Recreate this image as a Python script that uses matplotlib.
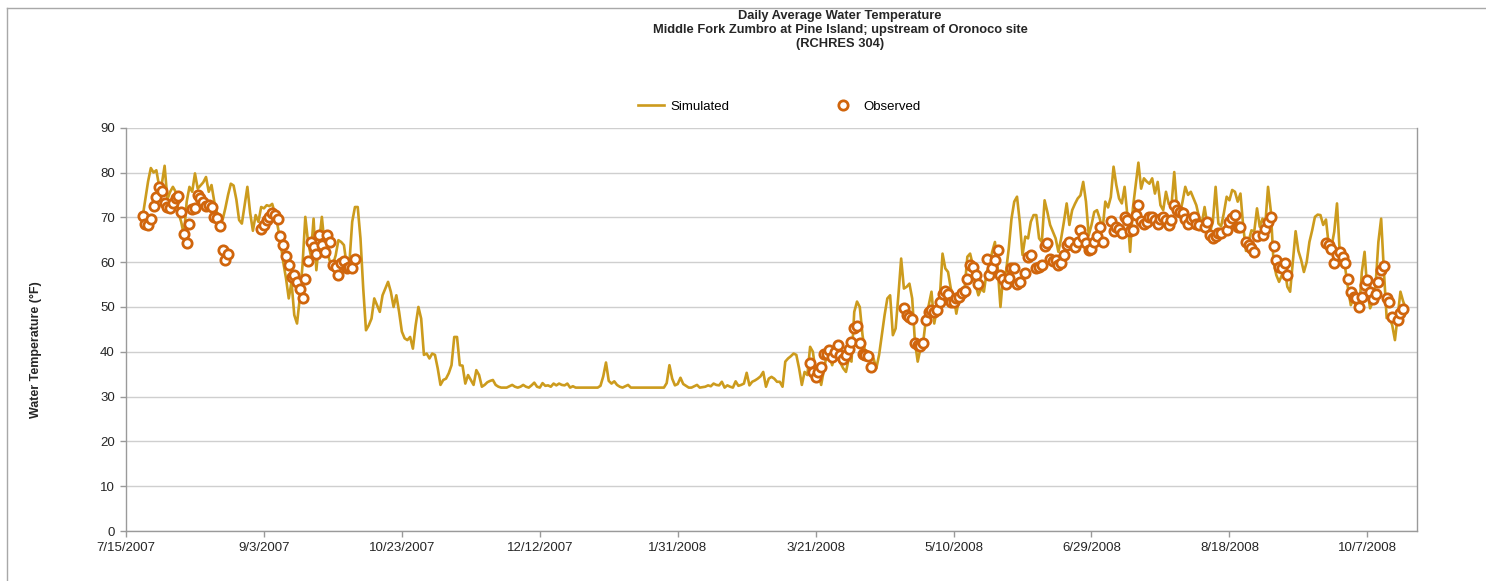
import numpy as np
import pandas as pd
import matplotlib
matplotlib.use("Agg")
import matplotlib.pyplot as plt
import matplotlib.dates as mdates
from matplotlib.ticker import FuncFormatter
from matplotlib.lines import Line2D

plt.rcParams['font.family'] = ['Liberation Sans', 'DejaVu Sans']

# data
axis_start = '2007-07-15'
sim_start = '2007-07-21'

sim_temp = [
    70.0, 74.0, 78.0, 81.0, 80.0, 80.5, 77.0, 77.5, 81.5, 74.0,
    75.7, 76.8, 75.7, 71.0, 69.0, 66.0, 73.5, 76.8, 75.7, 79.8,
    76.4, 77.1, 77.8, 79.0, 75.7, 77.2, 73.5, 71.0, 70.5, 69.4,
    72.0, 75.0, 77.5, 77.1, 74.0, 69.4, 68.6, 72.7, 76.8, 71.0,
    67.0, 70.5, 69.0, 72.3, 72.0, 72.7, 72.5, 73.0, 70.8, 68.0,
    64.5, 60.0, 56.4, 51.9, 55.6, 48.2, 46.3, 52.0, 59.4, 70.1,
    64.5, 61.5, 69.7, 58.2, 64.5, 70.1, 63.8, 62.0, 60.0, 59.4,
    61.5, 64.9, 64.5, 63.8, 59.3, 60.0, 69.0, 72.3, 72.3, 65.3,
    54.1, 44.8, 45.9, 47.4, 51.9, 50.4, 48.9, 52.6, 54.1, 55.6,
    53.4, 50.0, 52.6, 48.9, 44.5, 43.0, 42.6, 43.3, 40.7, 45.9,
    50.0, 47.4, 39.3, 39.6, 38.5, 39.6, 39.3, 36.3, 32.6, 33.7,
    34.0, 35.2, 37.0, 43.3, 43.3, 37.0, 36.9, 32.9, 34.8, 33.7,
    32.6, 35.9, 34.8, 32.2, 32.6, 33.2, 33.5, 33.7, 32.6, 32.2,
    32.0, 32.0, 32.0, 32.3, 32.6, 32.2, 32.0, 32.2, 32.6, 32.2,
    32.0, 32.5, 33.1, 32.2, 32.0, 33.0, 32.4, 32.5,
    32.2, 32.9, 32.5, 32.9, 32.6, 32.5, 32.9, 32.0, 32.3, 32.0,
    32.0, 32.0, 32.0, 32.0, 32.0, 32.0, 32.0, 32.0, 32.4, 34.5,
    37.6, 33.5, 32.9, 33.4, 32.6, 32.2, 32.0, 32.3, 32.6, 32.0,
    32.0, 32.0, 32.0, 32.0, 32.0, 32.0, 32.0, 32.0, 32.0, 32.0, 32.0, 32.0,
    33.0, 37.0, 34.0, 32.5, 32.8, 34.2, 32.8, 32.4, 32.0, 32.0,
    32.3, 32.6, 32.0, 32.1, 32.2, 32.5, 32.3, 32.9, 32.6, 32.5,
    33.3, 32.0, 32.5, 32.2, 32.0, 33.4, 32.4, 32.6, 32.9, 35.3,
    32.5, 33.3, 33.6,
    34.0, 34.5, 35.5, 32.2, 34.0, 34.4, 34.0, 33.3, 33.3, 32.2,
    37.8, 38.5, 39.0, 39.6, 39.3, 36.3, 32.6, 35.5, 34.8, 41.1,
    40.0, 35.5, 35.5, 32.6, 36.0, 39.3, 38.9, 37.0, 39.3, 39.6,
    37.5, 36.3, 35.5, 38.5, 37.8, 48.9, 51.2, 50.0, 43.7, 39.6,
    39.6, 39.0, 38.5, 36.3, 39.3, 43.7, 48.2, 51.9, 52.6, 43.7,
    45.2, 52.6, 60.8, 54.1, 54.5, 55.2, 51.9, 42.2, 37.8, 40.7,
    42.2, 47.4, 50.4, 53.4, 46.3, 49.7, 51.9, 61.9, 58.6, 57.8,
    54.1, 52.6, 48.5, 51.9, 52.6, 54.1, 61.2, 61.9,
    59.3, 54.9, 52.6, 54.1, 53.4, 57.8, 59.3, 62.3, 64.5, 58.6,
    50.0, 57.1, 57.8, 63.0, 69.7, 73.5, 74.6, 69.0, 61.6, 65.7,
    65.3, 69.0, 70.5, 70.5, 65.3, 64.5, 73.8, 71.2, 68.3, 66.8,
    65.3, 62.3, 65.3, 69.0, 73.1, 68.3, 71.6, 73.0, 74.2, 74.9,
    77.9, 73.5, 66.0, 68.3, 71.2, 71.6, 69.7, 67.1, 73.5, 72.2,
    74.5, 81.3, 77.2, 74.2, 73.1, 76.8, 70.5, 62.3, 72.0, 77.2,
    82.2, 76.4, 78.7, 78.0, 77.5, 78.7, 75.3, 77.9, 72.7, 71.6,
    75.7, 73.0, 72.7, 80.1,
    72.0, 70.5, 73.5, 76.8, 75.0, 75.7, 74.2, 72.7, 70.0, 68.6,
    72.3, 68.3, 66.8, 69.0, 76.8, 68.6, 68.0, 71.0, 74.6, 73.8,
    76.1, 75.7, 73.5, 75.3, 68.0, 62.5, 64.8, 67.1, 66.8, 72.0,
    67.9, 69.7, 68.3, 76.8, 71.5, 60.0, 57.1, 55.6, 57.1, 58.6,
    54.5, 53.4, 60.1, 66.9, 62.5, 60.5, 57.8, 60.0, 64.5, 67.1,
    70.1, 70.6, 70.5, 68.3, 69.5, 63.8, 63.4, 66.8, 73.1, 62.0,
    60.1, 58.6, 54.1, 50.4, 51.9, 49.7, 49.0, 57.8, 62.3, 53.5,
    49.7, 51.2, 54.9, 64.5, 69.7, 58.0, 47.5, 47.5, 46.0, 42.6,
    48.0, 53.4, 51.2, 49.7,
]

# observed: days after 7/15/2007 and temperature
obs_day = (
    list(range(6, 38))
    + list(range(49, 84))
    + list(range(248, 271))
    + list(range(282, 310)) + list(range(312, 325)) + [326, 327, 328]
    + list(range(330, 343)) + list(range(344, 355)) + list(range(357, 390))
    + list(range(391, 398)) + list(range(399, 405)) + list(range(406, 411))
    + list(range(412, 422))
    + list(range(435, 460)) + [461, 462, 463]
)
obs_temp = [
    70.3, 68.6, 68.3, 69.7, 72.6, 74.6, 76.7, 75.8, 73.3, 72.3, 72.1, 73.1,
    74.4, 74.8, 71.1, 66.2, 64.3, 68.4, 71.8, 72.1, 74.9, 74.4, 73.5, 72.6,
    72.7, 72.3, 70.1, 69.9, 68.0, 62.8, 60.4, 61.9,
    67.4, 68.3, 69.4, 70.1, 70.9, 70.5, 69.7, 65.8, 63.8, 61.4, 59.3, 56.7,
    57.1, 55.6, 54.1, 52.0, 56.2, 60.2, 64.5, 63.4, 61.9, 66.0, 63.9, 62.3,
    66.0, 64.5, 59.3, 59.0, 57.1, 59.9, 60.2, 58.7, 59.0, 58.7, 60.7,
    37.4, 35.5, 34.4, 35.4, 36.7, 39.4, 39.6, 40.4, 38.9, 40.0, 41.5, 39.3,
    38.4, 39.3, 40.6, 42.2, 45.2, 45.8, 41.9, 39.4, 39.3, 39.1, 36.5,
    49.8, 48.2, 47.7, 47.3, 41.9, 41.5, 41.3, 41.9, 47.1, 48.9, 49.3, 48.8,
    49.3, 51.2, 53.0, 53.5, 53.0, 51.0, 51.2, 51.9, 52.3, 53.2, 53.5, 56.2,
    59.3, 59.0, 57.2, 55.2,
    60.7, 57.2, 58.7, 60.4, 62.7, 57.1, 56.2, 55.2, 56.5, 58.7, 58.6, 55.2, 55.5,
    57.5, 61.2, 61.7,
    58.6, 59.0, 59.3, 63.6, 64.2, 60.7, 60.2, 60.4, 59.3, 59.7, 61.6, 63.8, 64.4,
    63.4, 64.5, 67.1, 65.7, 64.2, 62.7, 62.9, 64.5, 65.9, 67.9, 64.5,
    69.1, 66.9, 67.9, 67.5, 66.4, 70.1, 69.4, 66.9, 67.1, 70.5, 72.7, 69.1,
    68.6, 69.0, 70.1, 70.1, 69.4, 68.6, 69.7, 70.1, 69.4, 68.3, 69.4, 72.7,
    71.6, 71.2, 70.9, 69.7, 68.6, 69.7, 70.1, 68.6, 68.3,
    67.9, 69.0, 66.0, 65.4, 65.9, 66.4, 66.6,
    67.1, 69.0, 69.9, 70.5, 67.9, 67.9,
    64.5, 63.8, 63.2, 62.3, 65.9,
    66.0, 67.5, 69.0, 70.1, 63.6, 60.4, 59.0, 58.6, 59.7, 57.2,
    64.2, 63.8, 63.0, 59.7, 61.6, 62.3, 61.2, 59.7, 56.2, 53.4, 52.3, 51.9,
    50.0, 52.3, 54.9, 56.0, 53.4, 51.7, 53.0, 55.5, 58.2, 59.2, 52.0, 51.2,
    47.8, 47.1, 48.6, 49.5,
]

y_ticks = list(range(0, 91, 10))
x_tick_count = 10
x_tick_step = '50D'
x_span_days = 468

sim_dates = pd.date_range(sim_start, periods=len(sim_temp), freq='D')
obs_dates = pd.Timestamp(axis_start) + pd.to_timedelta(obs_day, unit='D')
x_ticks = pd.date_range(axis_start, periods=x_tick_count, freq=x_tick_step)

sim_color = '#cc9b1d'
obs_color = '#d0650c'
grid_color = '#cfcfcf'
axis_color = '#9a9a9a'

fig = plt.figure(figsize=(14.86, 5.81), dpi=100)
ax = fig.add_axes([126 / 1486, 1 - 531 / 581, (1417 - 126) / 1486, (531 - 127.7) / 581])

ax.plot(sim_dates, sim_temp, color=sim_color, lw=1.9, zorder=3, label='Simulated')
ax.plot(obs_dates, obs_temp, ls='none', marker='o', ms=6.7, mew=2.0,
        mec=obs_color, mfc='white', zorder=4, label='Observed')

ax.set_ylim(0, 90)
ax.set_yticks(y_ticks)
ax.set_xlim(pd.Timestamp(axis_start), pd.Timestamp(axis_start) + pd.Timedelta(days=x_span_days))
ax.set_xticks(x_ticks)
ax.xaxis.set_major_formatter(FuncFormatter(
    lambda v, p: '{d.month}/{d.day}/{d.year}'.format(d=mdates.num2date(v))))

ax.grid(axis='y', color=grid_color, lw=1.0, zorder=0)
ax.set_axisbelow(True)
for s in ['left', 'bottom', 'right']:
    ax.spines[s].set_color(axis_color)
    ax.spines[s].set_linewidth(1.0)
ax.spines['top'].set_visible(False)
ax.tick_params(axis='both', colors=axis_color, labelcolor='#262626', labelsize=9.5,
               length=4, width=1.0)
ax.tick_params(axis='y', pad=4)
ax.tick_params(axis='x', pad=4)

ax.set_ylabel('Water Temperature (°F)', fontsize=9, fontweight='bold', color='#262626')
ax.yaxis.set_label_coords(-(126 - 42) / 1291, 0.45)

title_x = 840 / 1486
fig.text(title_x, 1 - 16 / 581, 'Daily Average Water Temperature', ha='center', va='center',
         fontsize=9.3, fontweight='bold', color='#262626')
fig.text(title_x, 1 - 30 / 581, 'Middle Fork Zumbro at Pine Island; upstream of Oronoco site',
         ha='center', va='center', fontsize=9.3, fontweight='bold', color='#262626')
fig.text(title_x, 1 - 44 / 581, '(RCHRES 304)', ha='center', va='center',
         fontsize=9.3, fontweight='bold', color='#262626')

ax.legend(loc='center', bbox_to_anchor=(779 / 1486, 1 - 107 / 581), bbox_transform=fig.transFigure,
          ncol=2, frameon=False, fontsize=9.5, handlelength=2.0, handletextpad=0.5,
          columnspacing=7.6)

# chart border (top and left visible in the reference)
fig.add_artist(Line2D([7 / 1486, 1.0], [1 - 8 / 581, 1 - 8 / 581], color='#a8a8a8', lw=1.0))
fig.add_artist(Line2D([7 / 1486, 7 / 1486], [0.0, 1 - 8 / 581], color='#a8a8a8', lw=1.0))

fig.savefig('out.png', dpi=100)
